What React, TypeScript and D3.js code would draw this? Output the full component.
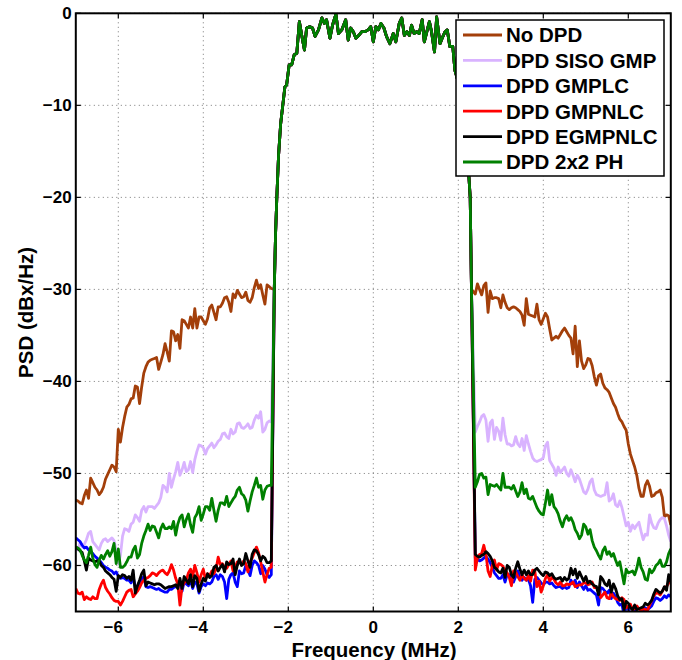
import React from "react";
import * as d3 from "d3";

// ---------- data ----------
const lowFreq = d3.range(93).map((i) => +(-7 + i * 0.05).toFixed(2)); // -7.00 .. -2.40
const highFreq = d3.range(93).map((i) => +(2.4 + i * 0.05).toFixed(2)); // 2.40 .. 7.00

// shared in-band segment (all curves coincide there)
const passFreq = [
  -2.33, -2.3, -2.27, -2.23, -2.18, -2.13, -2.08, -2.04, -1.98, -1.92, -1.86, -1.8, -1.74, -1.68,
  -1.62, -1.57, -1.49, -1.43, -1.37, -1.29, -1.21, -1.15, -1.1, -1.02, -0.96, -0.88, -0.82, -0.74,
  -0.65, -0.59, -0.53, -0.47, -0.41, -0.34, -0.27, -0.2, -0.12, -0.06, 0.0, 0.06, 0.12, 0.18, 0.25,
  0.31, 0.39, 0.47, 0.53, 0.61, 0.67, 0.73, 0.79, 0.85, 0.9, 0.96, 1.02, 1.08, 1.15, 1.2, 1.26,
  1.32, 1.37, 1.44, 1.49, 1.57, 1.62, 1.69, 1.74, 1.8, 1.87, 1.92, 2.0, 2.08, 2.15, 2.2, 2.25,
  2.28, 2.31,
];
const passPsd = [
  -30.0, -24.0, -20.0, -15.5, -12.0, -10.0, -8.0, -7.8, -5.6, -5.6, -4.5, -4.35, -0.9, -2.5,
  -4.0, -1.6, -1.45, -1.6, -2.5, -1.8, -0.5, -1.1, -0.7, -2.7, -1.3, -0.1, -2.2, -1.8,
  -0.7, -2.9, -1.6, -2.0, -2.7, -2.4, -2.0, -2.0, -1.8, -1.45, -3.1, -1.45, -1.8, -1.1, -1.6,
  -2.5, -3.3, -2.2, -3.1, -1.1, -0.5, -2.4, -2.0, -2.4, -1.3, -2.2, -2.0, -2.2, -0.7, -3.1, -2.0,
  -0.9, -2.0, -4.2, -0.4, -3.3, -2.7, -2.0, -1.8, -3.6, -3.6, -6.2, -7.5, -9.0, -11.5, -14.0, -17.8,
  -20.0, -30.0,
];

const noDpdLow = [
  -52.9, -53.0, -53.2, -53.3, -52.4, -51.8, -52.7, -50.5, -51.0, -51.5,
  -51.8, -52.3, -52.0, -51.5, -50.6, -50.1, -49.6, -49.1, -49.3, -49.8,
  -45.2, -46.6, -45.0, -43.8, -42.8, -42.5, -41.9, -41.8, -40.5, -40.6,
  -42.4, -40.6, -39.1, -38.4, -37.9, -37.7, -37.6, -37.5, -37.4, -38.7,
  -37.9, -37.1, -35.9, -36.8, -37.8, -34.5, -34.6, -35.6, -34.9, -36.4,
  -33.3, -33.4, -33.8, -34.2, -33.0, -34.2, -32.1, -34.2, -33.0, -33.0,
  -33.4, -33.8, -33.2, -32.0, -31.7, -32.5, -33.3, -31.9, -31.9, -31.5,
  -30.9, -30.8, -31.4, -32.4, -30.5, -30.9, -30.1, -30.5, -30.9, -30.8,
  -30.3, -31.2, -31.4, -30.9, -29.8, -29.0, -29.9, -29.5, -30.6, -31.6,
  -29.5, -29.7, -29.9,
];
const noDpdHigh = [
  -30.5, -29.4, -30.0, -30.6, -29.6, -29.3, -32.5, -30.2, -31.0, -30.9,
  -30.9, -31.0, -32.0, -30.6, -31.4, -32.0, -32.2, -32.0, -31.9, -32.0,
  -32.2, -32.4, -32.8, -33.9, -31.0, -32.7, -32.8, -32.9, -33.0, -31.6,
  -33.3, -33.8, -33.2, -32.6, -33.0, -34.3, -35.5, -35.3, -35.1, -35.3,
  -34.9, -34.5, -34.2, -34.6, -35.0, -35.3, -37.0, -34.0, -38.4, -35.6,
  -37.8, -38.6, -38.2, -37.5, -37.6, -38.3, -39.5, -40.4, -39.4, -39.2,
  -40.2, -40.7, -40.9, -41.2, -41.8, -42.4, -42.8, -43.5, -44.1, -44.4,
  -44.9, -45.3, -46.8, -47.9, -48.6, -49.3, -50.2, -51.6, -52.5, -52.5,
  -51.3, -50.8, -51.4, -52.5, -52.4, -52.1, -52.0, -51.8, -52.6, -54.7,
  -54.5, -54.6, -55.6,
];

const sisoLow = [
  -58.2, -58.3, -57.5, -58.0, -57.7, -57.2, -56.5, -56.3, -57.4, -57.7,
  -58.0, -58.3, -57.6, -57.2, -57.1, -57.4, -57.2, -57.0, -57.3, -58.4,
  -59.8, -58.9, -56.8, -56.0, -56.1, -56.3, -55.5, -55.3, -54.5, -54.8,
  -55.2, -54.0, -53.6, -54.2, -53.6, -53.6, -53.6, -53.8, -53.5, -53.2,
  -52.6, -51.3, -51.5, -52.0, -50.0, -51.5, -50.6, -49.8, -48.8, -50.2,
  -49.6, -48.8, -49.8, -49.6, -48.7, -49.9, -48.5, -47.6, -46.9, -47.0,
  -47.2, -47.9, -47.3, -47.0, -46.7, -47.2, -46.9, -46.5, -46.3, -45.7,
  -45.6, -46.0, -46.2, -45.2, -45.7, -45.5, -44.6, -44.5, -45.0, -45.1,
  -44.9, -44.6, -45.1, -45.0, -44.2, -43.7, -44.0, -43.3, -45.5, -45.2,
  -44.5, -44.3, -44.4,
];
const sisoHigh = [
  -45.5, -44.9, -44.4, -43.8, -43.6, -44.2, -46.5, -44.5, -44.2, -46.3,
  -45.0, -45.4, -46.4, -44.0, -45.8, -46.8, -46.8, -47.0, -46.9, -46.0,
  -46.8, -47.1, -46.2, -47.5, -45.9, -46.8, -47.6, -48.3, -48.6, -48.7,
  -48.6, -48.5, -48.3, -47.0, -46.6, -48.6, -49.0, -49.4, -50.2, -49.3,
  -49.9, -49.6, -49.3, -50.0, -50.3, -49.6, -50.2, -50.9, -50.2, -50.6,
  -51.3, -52.0, -52.2, -51.7, -50.9, -50.6, -51.8, -52.3, -52.4, -52.5,
  -52.4, -52.3, -51.0, -53.0, -52.8, -52.2, -53.4, -53.6, -53.0, -53.7,
  -54.7, -55.7, -55.3, -56.3, -55.6, -56.0, -55.6, -55.3, -56.3, -57.2,
  -56.6, -56.7, -54.5, -55.4, -55.9, -56.0, -55.4, -55.0, -54.8, -54.9,
  -55.7, -56.7, -57.4,
];

const gmplcLow = [
  -57.0, -57.2, -57.4, -57.8, -58.1, -58.0, -58.3, -58.5, -58.7, -59.0,
  -59.2, -59.4, -59.7, -60.0, -60.2, -60.3, -60.5, -60.6, -60.9, -60.7,
  -61.2, -61.4, -61.3, -61.4, -61.6, -61.6, -61.9, -61.2, -62.4, -62.3,
  -61.8, -61.5, -61.2, -62.3, -62.4, -62.3, -62.4, -62.5, -62.6, -62.5,
  -62.7, -62.8, -62.9, -62.9, -62.6, -62.6, -62.4, -62.3, -62.1, -61.9,
  -62.8, -61.8, -62.0, -62.2, -61.6, -62.5, -61.8, -62.0, -63.0, -62.3,
  -62.0, -62.2, -61.9, -62.0, -61.8, -61.2, -61.0, -61.5, -61.0, -61.2,
  -61.8, -63.6, -61.5, -61.0, -60.8, -61.8, -62.3, -60.6, -60.9, -60.8,
  -60.0, -60.5, -61.1, -60.0, -59.5, -59.7, -60.0, -60.9, -60.0, -60.4,
  -61.0, -61.3, -61.0,
];
const gmplcHigh = [
  -59.2, -59.3, -59.5, -59.4, -59.2, -59.0, -59.3, -59.7, -60.2, -60.8,
  -61.1, -61.4, -61.4, -61.0, -61.8, -61.0, -61.0, -61.6, -61.8, -61.2,
  -60.6, -61.2, -61.6, -61.3, -61.6, -61.5, -62.2, -64.0, -61.5, -61.3,
  -61.6, -61.9, -62.1, -61.8, -61.8, -62.0, -61.9, -62.2, -62.4, -62.3,
  -62.3, -62.5, -62.3, -62.5, -62.4, -61.6, -62.0, -61.6, -62.4, -61.8,
  -62.2, -62.6, -62.2, -62.7, -62.6, -62.8, -63.0, -63.2, -64.3, -62.4,
  -62.5, -62.8, -63.0, -62.7, -63.6, -63.0, -63.4, -64.0, -64.3, -64.2,
  -65.4, -64.5, -64.7, -65.3, -65.2, -64.8, -65.3, -65.2, -65.1, -64.9,
  -64.6, -64.8, -64.6, -64.4, -63.9, -63.5, -63.6, -63.8, -63.6, -63.3,
  -63.5, -63.2, -63.4,
];

const gmpnlcLow = [
  -62.5, -63.0, -63.1, -62.9, -63.7, -63.4, -63.6, -63.7, -63.4, -63.6,
  -63.6, -62.6, -62.0, -61.6, -62.4, -62.8, -63.1, -63.5, -63.8, -63.9,
  -63.9, -64.3, -63.9, -63.4, -62.9, -62.7, -62.6, -63.4, -63.1, -62.8,
  -62.4, -61.9, -61.6, -61.4, -61.3, -61.1, -60.8, -60.9, -61.1, -60.8,
  -60.6, -60.5, -60.8, -61.0, -60.6, -59.9, -60.5, -61.4, -62.0, -64.3,
  -62.3, -61.9, -61.6, -60.8, -60.4, -61.2, -60.0, -60.8, -61.8, -61.0,
  -60.4, -61.5, -60.9, -61.1, -60.6, -60.9, -60.4, -59.1, -59.9, -59.8,
  -60.2, -60.3, -59.9, -59.5, -60.6, -60.2, -59.6, -59.6, -59.9, -59.5,
  -59.8, -60.7, -59.6, -59.2, -58.6, -58.0, -58.6, -59.6, -60.7, -61.8,
  -61.0, -60.3, -60.2,
];
const gmpnlcHigh = [
  -60.5, -59.2, -58.8, -58.7, -57.8, -58.8, -60.6, -61.2, -60.0, -59.4,
  -60.5, -59.8, -59.9, -60.1, -60.5, -60.8, -61.3, -62.2, -60.6, -60.7,
  -61.2, -61.6, -61.0, -61.4, -61.6, -61.1, -61.7, -60.5, -60.6, -62.3,
  -61.7, -62.9, -62.2, -61.4, -61.0, -61.7, -61.3, -61.5, -61.9, -62.1,
  -61.8, -62.2, -62.2, -62.0, -62.1, -62.0, -61.8, -62.3, -62.2, -62.1,
  -62.1, -61.9, -61.9, -62.1, -62.0, -61.8, -62.4, -62.4, -62.6, -63.5,
  -63.2, -62.9, -63.5, -63.6, -63.0, -63.4, -63.6, -63.7, -63.8, -63.5,
  -63.7, -64.6, -64.4, -64.2, -64.8, -64.7, -64.4, -64.7, -64.9, -64.7,
  -64.8, -64.9, -64.3, -63.8, -63.3, -63.0, -63.0, -63.2, -62.8, -62.4,
  -62.3, -61.9, -61.3,
];

const egmpnlcLow = [
  -58.0, -58.2, -58.4, -58.6, -59.5, -60.5, -59.2, -59.4, -59.5, -59.6,
  -59.5, -59.5, -60.0, -60.2, -60.6, -60.8, -61.0, -61.3, -61.5, -62.8,
  -61.1, -61.3, -61.0, -61.1, -61.4, -61.2, -61.6, -60.5, -63.0, -62.2,
  -61.6, -60.9, -60.5, -62.2, -61.8, -61.9, -62.0, -62.1, -62.0, -62.0,
  -62.1, -62.3, -62.5, -62.4, -62.3, -62.3, -62.2, -62.1, -62.5, -61.4,
  -62.5, -61.2, -61.6, -62.0, -61.0, -62.3, -61.1, -61.4, -62.8, -62.0,
  -61.4, -61.7, -60.9, -61.3, -61.1, -60.2, -60.0, -60.6, -60.2, -59.9,
  -60.7, -59.6, -59.9, -59.8, -59.3, -61.0, -60.0, -59.3, -60.0, -59.8,
  -58.7, -59.5, -60.2, -58.8, -58.3, -58.4, -58.8, -59.5, -59.0, -59.2,
  -59.7, -59.7, -59.5,
];
const egmpnlcHigh = [
  -58.8, -59.0, -59.1, -58.9, -58.8, -58.5, -58.7, -59.0, -59.5, -60.2,
  -60.4, -60.7, -60.8, -60.3, -61.3, -60.0, -60.2, -61.0, -61.3, -60.3,
  -59.6, -60.4, -61.0, -60.5, -61.0, -60.6, -61.0, -61.0, -60.5, -60.3,
  -60.6, -60.9, -61.1, -60.7, -60.8, -61.1, -60.9, -61.3, -61.5, -61.4,
  -61.3, -61.7, -61.3, -61.6, -61.4, -60.3, -61.0, -60.4, -61.4, -60.7,
  -61.2, -61.7, -61.2, -61.9, -61.7, -62.0, -62.2, -62.3, -63.2, -61.2,
  -61.5, -62.0, -62.2, -61.6, -62.9, -62.0, -62.5, -63.3, -63.7, -63.6,
  -64.8, -63.9, -64.1, -64.6, -64.8, -64.3, -64.8, -64.7, -64.6, -64.5,
  -64.1, -64.3, -64.1, -63.8, -63.1, -62.6, -62.8, -63.0, -62.8, -62.3,
  -62.7, -61.0, -61.8,
];

const phLow = [
  -58.0, -58.1, -58.3, -58.9, -59.4, -59.7, -58.9, -58.0, -59.2, -59.9,
  -60.2, -59.4, -58.9, -59.3, -58.8, -58.4, -59.0, -58.5, -57.6, -59.8,
  -58.2, -60.2, -60.2, -60.0, -59.6, -59.1, -59.1, -58.3, -57.9, -59.2,
  -58.8, -57.6, -56.8, -56.2, -55.5, -56.2, -55.7, -55.8, -56.4, -57.0,
  -56.0, -55.5, -56.0, -56.0, -55.8, -56.0, -55.2, -56.7, -55.5, -54.8,
  -54.5, -55.8, -55.0, -54.4, -55.6, -56.4, -54.8, -54.4, -53.6, -55.1,
  -54.4, -53.6, -53.6, -54.0, -52.7, -54.0, -55.2, -54.0, -53.2, -53.2,
  -53.4, -52.5, -53.6, -53.2, -52.8, -52.5, -51.8, -51.5, -52.2, -52.4,
  -52.9, -54.1, -53.0, -52.0, -51.3, -50.5, -51.5, -51.3, -52.8, -51.8,
  -51.4, -51.3, -51.3,
];
const phHigh = [
  -51.5, -50.9, -50.1, -50.0, -50.5, -50.4, -52.3, -51.2, -51.3, -51.4,
  -51.2, -51.5, -51.8, -50.0, -51.5, -51.5, -51.5, -51.7, -51.3, -51.9,
  -52.5, -52.0, -51.0, -52.2, -51.7, -52.7, -52.8, -52.5, -53.1, -53.7,
  -54.1, -54.4, -54.5, -53.2, -51.8, -53.4, -52.3, -53.6, -53.9, -54.4,
  -55.2, -55.8, -55.0, -54.6, -55.1, -54.8, -55.3, -56.1, -56.5, -57.1,
  -56.7, -55.5, -55.8, -56.6, -56.1, -57.3, -58.0, -58.4, -58.9, -59.3,
  -58.4, -58.0, -58.8, -58.5, -59.0, -58.7, -59.4, -60.0, -59.6, -60.8,
  -62.0, -60.4, -60.8, -60.7, -60.6, -61.0, -60.3, -59.2, -60.2, -60.7,
  -61.5, -61.6, -60.4, -60.8, -60.5, -60.0, -59.8, -59.4, -60.1, -60.1,
  -59.6, -58.7, -58.2,
];

const seriesNames = ["No DPD", "DPD SISO GMP", "DPD GMPLC", "DPD GMPNLC", "DPD EGMPNLC", "DPD 2x2 PH"];
const seriesColors = ["#a33f0a", "#d9b3ff", "#0000ff", "#ff0000", "#000000", "#008000"];
const lowBands = [noDpdLow, sisoLow, gmplcLow, gmpnlcLow, egmpnlcLow, phLow];
const highBands = [noDpdHigh, sisoHigh, gmplcHigh, gmpnlcHigh, egmpnlcHigh, phHigh];

const xTicks = [-6, -4, -2, 0, 2, 4, 6];
const yTicks = [0, -10, -20, -30, -40, -50, -60];

// ---------- layout ----------
const W = 682;
const H = 660;
const left = 75.8;
const right = 670.8;
const top = 13.3;
const bottom = 611.5;
const FONT = "'Liberation Sans', Arial, Helvetica, sans-serif";

export default function App() {
  const x = d3.scaleLinear().domain([-7, 7]).range([left, right]);
  const y = d3.scaleLinear().domain([-65, 0]).range([bottom, top]);
  const line = d3
    .line<[number, number]>()
    .x((d) => x(d[0]))
    .y((d) => y(d[1]));

  const seriesData = seriesNames.map((name, s) => {
    const pts: [number, number][] = [
      ...lowBands[s].map((v, i) => [lowFreq[i], v] as [number, number]),
      ...passFreq.map((f, i) => [f, passPsd[i]] as [number, number]),
      ...highBands[s].map((v, i) => [highFreq[i], v] as [number, number]),
    ];
    return { name, color: seriesColors[s], pts };
  });

  const fmt = (v: number) => (v < 0 ? "\u2212" + Math.abs(v) : String(v));
  const tickLen = 5;

  const legX = 456;
  const legY = 20;
  const legW = 208;
  const legH = 156;
  const rowY = (i: number) => 35 + i * 25.4;

  return (
    <svg
      width={W}
      height={H}
      style={{ position: "absolute", left: 0, top: 0, background: "#fff" }}
      fontFamily={FONT}
    >
      <defs>
        <clipPath id="plotClip">
          <rect x={left} y={top} width={right - left} height={bottom - top} />
        </clipPath>
      </defs>
      <rect x={0} y={0} width={W} height={H} fill="#fff" />

      {/* grid */}
      <g stroke="#777" strokeWidth={1} strokeDasharray="1 3.5">
        {xTicks.map((t) => (
          <line key={"gx" + t} x1={x(t)} x2={x(t)} y1={top} y2={bottom} />
        ))}
        {yTicks.map((t) => (
          <line key={"gy" + t} x1={left} x2={right} y1={y(t)} y2={y(t)} />
        ))}
      </g>

      {/* series */}
      <g clipPath="url(#plotClip)" fill="none" strokeWidth={2.8} strokeLinejoin="round">
        {seriesData.map((s) => (
          <path key={s.name} d={line(s.pts) || ""} stroke={s.color} />
        ))}
      </g>

      {/* ticks */}
      <g stroke="#000" strokeWidth={1.2}>
        {xTicks.map((t) => (
          <g key={"tx" + t}>
            <line x1={x(t)} x2={x(t)} y1={bottom} y2={bottom - tickLen} />
            <line x1={x(t)} x2={x(t)} y1={top} y2={top + tickLen} />
          </g>
        ))}
        {yTicks.map((t) => (
          <g key={"ty" + t}>
            <line x1={left} x2={left + tickLen} y1={y(t)} y2={y(t)} />
            <line x1={right} x2={right - tickLen} y1={y(t)} y2={y(t)} />
          </g>
        ))}
      </g>

      {/* axes box */}
      <rect
        x={left}
        y={top}
        width={right - left}
        height={bottom - top}
        fill="none"
        stroke="#000"
        strokeWidth={2}
      />

      {/* tick labels */}
      <g fontSize={17} fontWeight="bold" fill="#000">
        {xTicks.map((t) => (
          <text key={"lx" + t} x={x(t) + (t < 0 ? -5 : 0)} y={633} textAnchor="middle">
            {fmt(t)}
          </text>
        ))}
        {yTicks.map((t) => (
          <text key={"ly" + t} x={71.7} y={y(t) + 6} textAnchor="end">
            {fmt(t)}
          </text>
        ))}
      </g>

      {/* axis labels */}
      <text x={374} y={656.5} textAnchor="middle" fontSize={20.5} fontWeight="bold">
        Frequency (MHz)
      </text>
      <text
        transform={`translate(33,${(top + bottom) / 2}) rotate(-90)`}
        textAnchor="middle"
        fontSize={20.5}
        fontWeight="bold"
      >
        PSD (dBx/Hz)
      </text>

      {/* legend */}
      <g>
        <rect x={legX} y={legY} width={legW} height={legH} fill="#fff" stroke="#000" strokeWidth={1.5} />
        {seriesData.map((s, i) => (
          <g key={"leg" + s.name}>
            <line x1={463} x2={502} y1={rowY(i)} y2={rowY(i)} stroke={s.color} strokeWidth={2.8} />
            <text x={506} y={rowY(i) + 7.3} fontSize={20.5} fontWeight="bold">
              {s.name}
            </text>
          </g>
        ))}
      </g>
    </svg>
  );
}
